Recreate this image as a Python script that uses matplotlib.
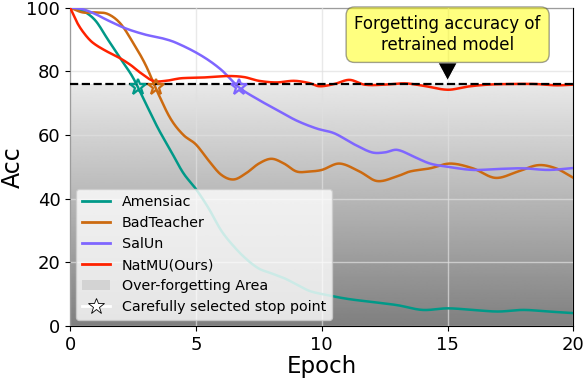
import numpy as np
import matplotlib
matplotlib.use('Agg')
import matplotlib.pyplot as plt
from matplotlib.lines import Line2D
from matplotlib.patches import Patch

# values (epoch, acc)
ame_x = [0, 0.5, 1, 1.5, 2, 2.5, 3, 3.5, 4, 4.5, 5, 5.5, 6, 6.5, 7, 7.5, 8, 8.5, 9, 9.5, 10,
         11, 12, 13, 14, 15, 16, 17, 18, 19, 20]
ame_y = [100, 99, 96, 90, 84, 78, 70, 62, 55, 48, 43, 37, 30, 25, 21, 18, 16.5, 15, 13, 11, 10,
         8.5, 7.5, 6.5, 5, 5.5, 5, 4.5, 5, 4.5, 4]

bad_x = [0, 0.5, 1, 1.5, 2, 2.5, 3, 3.5, 4, 4.5, 5, 5.5, 6, 6.5, 7, 7.5, 8, 8.5, 9, 9.5, 10,
         10.7, 11.5, 12.2, 13, 13.5, 14.3, 15.1, 16, 16.9, 17.8, 18.6, 19.3, 20]
bad_y = [100, 98.5, 98.5, 98, 95, 89, 82, 73, 65, 60, 57, 52, 47.5, 46, 48, 51, 52.5, 51, 48.5, 48.5, 49,
         51, 48.5, 45.5, 47, 48.5, 49.5, 51, 49.5, 46.5, 48.5, 50.5, 49.5, 46.5]

sal_x = [0, 0.5, 1, 1.5, 2.2, 3, 3.6, 4.2, 5.2, 6, 6.7, 7.5, 8.3, 9, 9.8, 10.5, 11.3, 12, 12.5, 13,
         13.7, 14.3, 15, 16, 17, 18, 19, 20]
sal_y = [100, 99.5, 98, 96, 93.5, 91.5, 90.5, 89, 85, 80.5, 75, 71, 67.5, 64.5, 62, 60.5, 57, 54.5, 54.5, 55.3,
         53, 51, 50, 49, 49.3, 49.5, 49, 49.6]

nat_x = [0, 0.3, 0.6, 0.9, 1.4, 1.9, 2.4, 2.8, 3.3, 3.8, 4.4, 5.2, 6.2, 6.9, 7.5, 8.2, 8.9, 9.5, 9.9,
         10.5, 11.1, 11.7, 12.5, 13.3, 14, 15, 15.8, 16.6, 17.5, 18.5, 19.3, 20]
nat_y = [100, 95, 91.5, 89, 86.5, 84.5, 82, 79.5, 77, 77, 77.8, 78, 78.5, 78.2, 77, 76.5, 77, 76.3, 75.3,
         76, 77.3, 75.8, 75.8, 76.2, 75.5, 74.2, 75.2, 75.8, 76, 76, 75.6, 75.8]

stop_x = [2.7, 3.4, 6.7]
stop_y = [75, 75, 75]
retrain_acc = 76

names = ['Amensiac', 'BadTeacher', 'SalUn', 'NatMU(Ours)']
colors = ['#009988', '#cc6a10', '#7f66ff', '#ff2200']


def smooth(x, y):
    # cubic hermite (catmull-rom) through the read points
    x = np.asarray(x, float)
    y = np.asarray(y, float)
    xs = np.linspace(x[0], x[-1], 600)
    pts = []
    for i in range(len(x) - 1):
        x0, x1 = x[max(i - 1, 0)], x[i]
        x2, x3 = x[i + 1], x[min(i + 2, len(x) - 1)]
        y0, y1 = y[max(i - 1, 0)], y[i]
        y2, y3 = y[i + 1], y[min(i + 2, len(y) - 1)]
        m1 = (y2 - y0) / (x2 - x0) if x2 != x0 else 0
        m2 = (y3 - y1) / (x3 - x1) if x3 != x1 else 0
        h = x2 - x1
        sel = (xs >= x1) & (xs <= x2) if i == len(x) - 2 else (xs >= x1) & (xs < x2)
        t = (xs[sel] - x1) / h
        h00 = 2 * t**3 - 3 * t**2 + 1
        h10 = t**3 - 2 * t**2 + t
        h01 = -2 * t**3 + 3 * t**2
        h11 = t**3 - t**2
        pts.append(h00 * y1 + h10 * h * m1 + h01 * y2 + h11 * h * m2)
    return xs, np.concatenate(pts)


fig, ax = plt.subplots(figsize=(5.84, 3.82), dpi=100)

# over-forgetting gradient area
grad = np.linspace(0.91, 0.5, 256).reshape(-1, 1)
ax.imshow(grad, cmap='gray', vmin=0, vmax=1, aspect='auto',
          extent=[0, 20, 0, retrain_acc], zorder=0)
ax.grid(True, color='#e0e0e0', linewidth=1, zorder=1, alpha=0.7)
ax.set_axisbelow(False)

for xd, yd, c, n in zip([ame_x, bad_x, sal_x, nat_x], [ame_y, bad_y, sal_y, nat_y], colors, names):
    xs, ys = smooth(xd, yd)
    ax.plot(xs, ys, color=c, lw=1.8, label=n, zorder=3)

ax.axhline(retrain_acc, color='black', ls='--', lw=1.6, zorder=4)

for sx, sy, c in zip(stop_x, stop_y, colors[:3]):
    ax.plot(sx, sy, marker='*', ms=12, mfc='none', mec=c, mew=1.6, zorder=5)

ax.annotate('Forgetting accuracy of\nretrained model', xy=(15, retrain_acc + 1.0), xytext=(15, 91.5),
            ha='center', va='center', fontsize=12,
            bbox=dict(boxstyle='round,pad=0.5', fc='yellow', alpha=0.5, ec='#444444'),
            arrowprops=dict(facecolor='black', edgecolor='white', lw=0.8, shrink=0.0, width=1,
                            headwidth=14, headlength=13),
            zorder=6)

handles = [Line2D([0], [0], color=c, lw=2) for c in colors]
handles.append(Patch(facecolor='lightgray'))
handles.append(Line2D([0], [0], color='white', lw=2, marker='*', ms=12, mfc='white', mec='black', mew=0.6))
labels = names + ['Over-forgetting Area', 'Carefully selected stop point']
leg = ax.legend(handles, labels, loc='lower left', fontsize=10.3, framealpha=0.8, borderaxespad=0.4)
leg.set_zorder(7)

ax.set_xlim(0, 20)
ax.set_ylim(0, 100)
ax.set_xticks([0, 5, 10, 15, 20])
ax.set_yticks([0, 20, 40, 60, 80, 100])
ax.tick_params(labelsize=13)
ax.set_xlabel('Epoch', fontsize=16.5, labelpad=1)
ax.set_ylabel('Acc', fontsize=17, labelpad=1)

fig.subplots_adjust(left=0.12, right=0.982, top=0.98, bottom=0.147)
fig.savefig('out.png', dpi=100)
